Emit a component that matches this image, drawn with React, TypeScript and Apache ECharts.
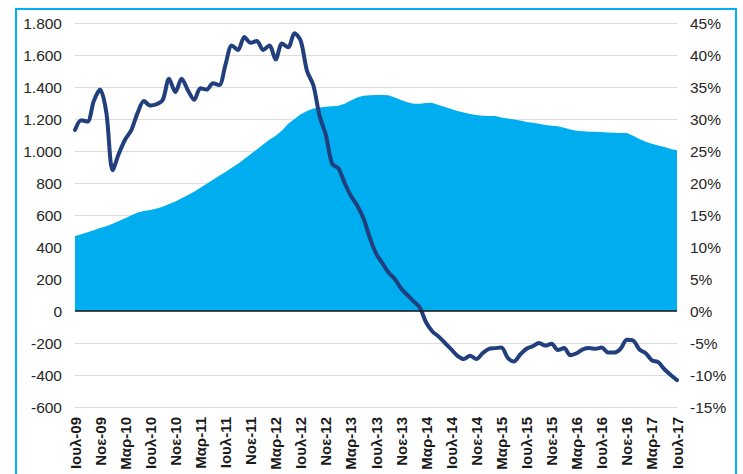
import React, { useEffect, useRef } from "react";
import * as echarts from "echarts";

const MONTHS = ["Ιαν", "Φεβ", "Μαρ", "Απρ", "Μαϊ", "Ιουν", "Ιουλ", "Αυγ", "Σεπ", "Οκτ", "Νοε", "Δεκ"];
const START_MONTH = 6; // Ιουλ
const START_YEAR = 2009;
const N_MONTHS = 97;

const CATEGORIES: string[] = [];
for (let i = 0; i < N_MONTHS; i++) {
  const m = (START_MONTH + i) % 12;
  const y = START_YEAR + Math.floor((START_MONTH + i) / 12);
  CATEGORIES.push(MONTHS[m] + "-" + String(y % 100).padStart(2, "0"));
}

// Left axis (area)
const AREA_VALUES = [
  469, 480, 492, 505, 518, 530, 545, 562, 580, 598, 615, 625, 632, 640, 652, 668, 685, 705, 725, 745,
  770, 795, 820, 845, 868, 895, 920, 950, 980, 1010, 1040, 1070, 1095, 1128, 1170, 1200, 1230, 1250, 1265, 1272,
  1277, 1280, 1283, 1295, 1315, 1335, 1345, 1348, 1350, 1350, 1348, 1335, 1318, 1305, 1295, 1295, 1300, 1300, 1288, 1275,
  1262, 1250, 1240, 1232, 1225, 1220, 1219, 1218, 1210, 1203, 1197, 1190, 1182, 1176, 1170, 1163, 1158, 1155, 1145, 1135,
  1127, 1124, 1121, 1120, 1118, 1116, 1114, 1113, 1113, 1095, 1075, 1058, 1045, 1035, 1025, 1012, 1004,
];

// Right axis (line, %)
const LINE_VALUES = [
  28.3, 29.8, 29.6, 32.8, 34.6, 31.0, 22.0, 24.6, 26.8, 28.3, 31.0, 32.8, 32.1, 32.3, 33.0, 36.3, 34.2, 36.3, 34.5, 33.0,
  34.8, 34.6, 35.6, 35.3, 38.5, 41.5, 40.8, 42.8, 41.9, 42.2, 40.8, 41.5, 39.3, 41.8, 41.2, 43.4, 42.2, 37.5, 35.3, 30.5,
  27.5, 23.0, 22.3, 20.0, 18.0, 16.5, 14.5, 11.5, 9.0, 7.5, 6.0, 5.0, 3.5, 2.5, 1.5, 0.5, -1.8, -3.2, -4.0, -5.0,
  -6.0, -7.0, -7.5, -7.0, -7.5, -6.6, -5.9, -5.8, -5.7, -7.3, -7.9, -6.8, -5.9, -5.5, -5.0, -5.4, -5.1, -6.1, -5.8, -6.9,
  -6.6, -6.0, -5.8, -5.9, -5.7, -6.5, -6.5, -5.9, -4.5, -4.6, -6.0, -6.6, -7.7, -8.0, -9.1, -10.0, -10.8,
];

const LEFT_MIN = -600;
const LEFT_MAX = 1800;
const LEFT_STEP = 200;
const RIGHT_MIN = -15;
const RIGHT_MAX = 45;
const RIGHT_STEP = 5;

const FONT = "'Liberation Sans', Arial, sans-serif";

function fmtThousands(v: number): string {
  const s = String(Math.abs(v));
  const withDots = s.replace(/\B(?=(\d{3})+(?!\d))/g, ".");
  return (v < 0 ? "-" : "") + withDots;
}

export default function App() {
  const ref = useRef<HTMLDivElement>(null);
  useEffect(() => {
    if (!ref.current) return;
    const chart = echarts.init(ref.current, null, { renderer: "svg" });
    chart.setOption({
      animation: false,
      backgroundColor: "#ffffff",
      textStyle: { fontFamily: FONT },
      graphic: [
        {
          type: "rect",
          shape: { x: 16, y: 9, width: 720, height: 480 },
          style: { fill: "none", stroke: "#00b0f0", lineWidth: 2 },
          silent: true,
          z: 100,
        },
      ],
      grid: { left: 75, right: 66, top: 23, bottom: 67, containLabel: false },
      xAxis: {
        type: "category",
        data: CATEGORIES,
        boundaryGap: false,
        axisLine: { show: false },
        axisTick: { show: false },
        splitLine: { show: false },
        axisLabel: {
          interval: 3,
          rotate: 90,
          margin: 10,
          fontSize: 15,
          fontWeight: "bold",
          color: "#1a1a1a",
          fontFamily: FONT,
        },
      },
      yAxis: [
        {
          type: "value",
          min: LEFT_MIN,
          max: LEFT_MAX,
          interval: LEFT_STEP,
          position: "left",
          axisLine: { show: false },
          axisTick: { show: false },
          splitLine: { show: true, lineStyle: { color: "#dcdcdc", width: 1 } },
          axisLabel: {
            margin: 13,
            fontSize: 15.5,
            color: "#262626",
            fontFamily: FONT,
            formatter: (v: number) => fmtThousands(v),
          },
        },
        {
          type: "value",
          min: RIGHT_MIN,
          max: RIGHT_MAX,
          interval: RIGHT_STEP,
          position: "right",
          axisLine: { show: false },
          axisTick: { show: false },
          splitLine: { show: false },
          axisLabel: {
            margin: 13,
            fontSize: 15.5,
            color: "#262626",
            fontFamily: FONT,
            formatter: (v: number) => v + "%",
          },
        },
      ],
      series: [
        {
          type: "line",
          yAxisIndex: 0,
          data: AREA_VALUES,
          showSymbol: false,
          symbol: "none",
          lineStyle: { width: 0 },
          areaStyle: { color: "#00adee", opacity: 1 },
          z: 2,
          markLine: {
            silent: true,
            symbol: ["none", "none"],
            label: { show: false },
            lineStyle: { color: "#1a1a1a", width: 1.5, type: "solid" },
            data: [{ yAxis: 0 }],
          },
        },
        {
          type: "line",
          yAxisIndex: 1,
          data: LINE_VALUES,
          showSymbol: false,
          symbol: "none",
          smooth: 0.3,
          lineStyle: { width: 4, color: "#213f7c", cap: "round", join: "round" },
          z: 3,
        },
      ],
    });
    return () => chart.dispose();
  }, []);
  return (
    <div
      ref={ref}
      style={{ position: "fixed", left: 0, top: 0, width: 743, height: 474, background: "#fff" }}
    />
  );
}
